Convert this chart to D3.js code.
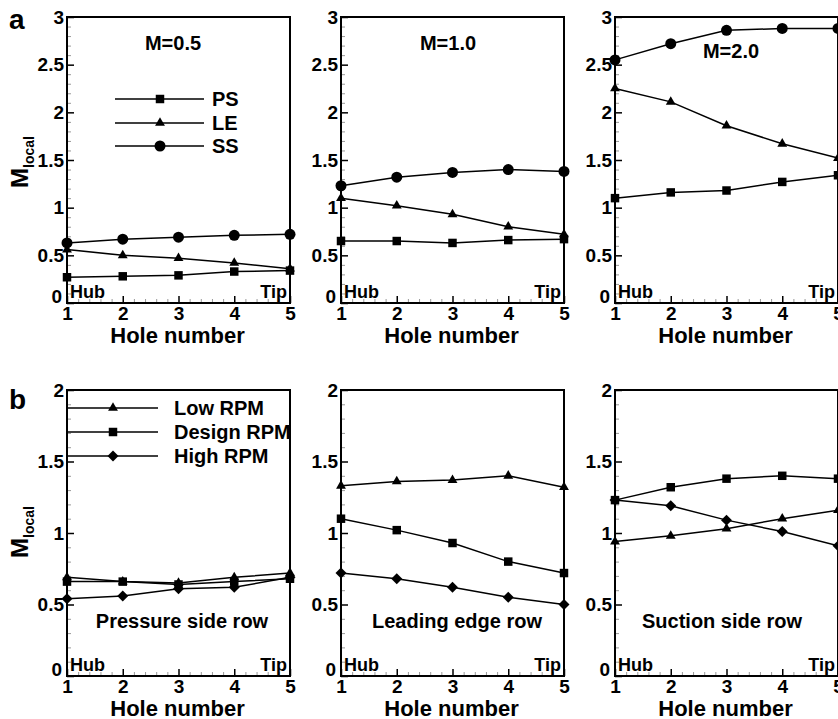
<!DOCTYPE html>
<html>
<head>
<meta charset="utf-8">
<script src="https://d3js.org/d3.v7.min.js"></script>
<style>
  body { margin: 0; background: #fff; }
  svg text { font-family: "Liberation Sans", Arial, sans-serif; font-weight: bold; fill: #000; }
</style>
</head>
<body>
<div id="chart"></div>
<script>

// hole positions along the blade span
var holes = [1, 2, 3, 4, 5];

// row a: blowing ratio cases
var titlesA = ["M=0.5", "M=1.0", "M=2.0"];
var m05PS = [0.27, 0.28, 0.29, 0.33, 0.34];
var m05LE = [0.56, 0.50, 0.47, 0.42, 0.36];
var m05SS = [0.63, 0.67, 0.69, 0.71, 0.72];
var m10PS = [0.65, 0.65, 0.63, 0.66, 0.67];
var m10LE = [1.10, 1.02, 0.93, 0.80, 0.72];
var m10SS = [1.23, 1.32, 1.37, 1.40, 1.38];
var m20PS = [1.10, 1.16, 1.18, 1.27, 1.34];
var m20LE = [2.25, 2.11, 1.86, 1.67, 1.52];
var m20SS = [2.55, 2.72, 2.86, 2.88, 2.88];
var seriesA = ["PS", "LE", "SS"];

// row b: rotational speed cases
var titlesB = ["Pressure side row", "Leading edge row", "Suction side row"];
var psLow    = [0.69, 0.66, 0.65, 0.69, 0.72];
var psDesign = [0.66, 0.66, 0.64, 0.66, 0.68];
var psHigh   = [0.54, 0.56, 0.61, 0.62, 0.69];
var leLow    = [1.33, 1.36, 1.37, 1.40, 1.32];
var leDesign = [1.10, 1.02, 0.93, 0.80, 0.72];
var leHigh   = [0.72, 0.68, 0.62, 0.55, 0.50];
var ssLow    = [0.94, 0.98, 1.03, 1.10, 1.16];
var ssDesign = [1.23, 1.32, 1.38, 1.40, 1.38];
var ssHigh   = [1.23, 1.19, 1.09, 1.01, 0.91];
var seriesB = ["Low RPM", "Design RPM", "High RPM"];

var yTicksA = [0, 0.5, 1, 1.5, 2, 2.5, 3];
var yTicksB = [0, 0.5, 1, 1.5, 2];

var width = 838, height = 719;
var svg = d3.select("#chart").append("svg")
  .attr("width", width)
  .attr("height", height);

var lefts = [67, 341, 615];
var pw = 223, ph = 286;

var shapes = {
  "PS": {type: d3.symbolSquare, size: 72, rot: 0},
  "LE": {type: d3.symbolTriangle, size: 42, rot: 0},
  "SS": {type: d3.symbolCircle, size: 95, rot: 0},
  "Low RPM": {type: d3.symbolTriangle, size: 42, rot: 0},
  "Design RPM": {type: d3.symbolSquare, size: 72, rot: 0},
  "High RPM": {type: d3.symbolSquare, size: 60, rot: 45}
};

function drawPanel(left, top, ymax, yTicks, series, names) {
  var g = svg.append("g").attr("transform", "translate(" + left + "," + top + ")");
  var x = d3.scaleLinear().domain([1, 5]).range([0, pw]);
  var y = d3.scaleLinear().domain([0, ymax]).range([ph, 0]);

  // minor ticks
  var yMinor = d3.range(0, ymax + 0.001, 0.1).filter(function(v) { return Math.abs(v * 2 - Math.round(v * 2)) > 0.01; });
  var xMinor = d3.range(1, 5.001, 0.2).filter(function(v) { return Math.abs(v - Math.round(v)) > 0.01; });
  g.append("g")
    .call(d3.axisLeft(y).tickValues(yMinor).tickSize(-4).tickFormat(""))
    .call(function(a) { a.select(".domain").remove(); a.selectAll("line").attr("stroke", "#999"); });
  g.append("g")
    .attr("transform", "translate(0," + ph + ")")
    .call(d3.axisBottom(x).tickValues(xMinor).tickSize(-4).tickFormat(""))
    .call(function(a) { a.select(".domain").remove(); a.selectAll("line").attr("stroke", "#999"); });

  // major ticks
  g.append("g")
    .call(d3.axisLeft(y).tickValues(yTicks).tickSize(-7).tickPadding(3).tickFormat(function(d) { return String(d); }))
    .call(function(a) {
      a.select(".domain").remove();
      a.selectAll("line").attr("stroke", "#000").attr("stroke-width", 1.5);
      a.selectAll("text").attr("font-size", 19).attr("font-family", null);
      a.selectAll(".tick").filter(function(d) { return d === 0; }).select("text").attr("dy", "-0.05em").attr("x", -5);
    });
  g.append("g")
    .attr("transform", "translate(0," + ph + ")")
    .call(d3.axisBottom(x).tickValues(holes).tickSize(-7).tickPadding(2).tickFormat(d3.format("d")))
    .call(function(a) {
      a.select(".domain").remove();
      a.selectAll("line").attr("stroke", "#000").attr("stroke-width", 1.5);
      a.selectAll("text").attr("font-size", 19).attr("font-family", null).attr("y", 3);
    });

  // frame
  g.append("rect")
    .attr("width", pw).attr("height", ph)
    .attr("fill", "none").attr("stroke", "#000").attr("stroke-width", 2);

  var line = d3.line()
    .x(function(d, i) { return x(holes[i]); })
    .y(function(d) { return y(d); });

  series.forEach(function(vals, k) {
    g.append("path")
      .attr("d", line(vals))
      .attr("fill", "none")
      .attr("stroke", "#000")
      .attr("stroke-width", 1.5);
    var s = shapes[names[k]];
    g.selectAll(null)
      .data(vals)
      .enter()
      .append("path")
      .attr("d", d3.symbol().type(s.type).size(s.size))
      .attr("transform", function(d, i) { return "translate(" + x(holes[i]) + "," + y(d) + ") rotate(" + s.rot + ")"; })
      .attr("fill", "#000");
  });

  g.append("text").attr("x", 3).attr("y", ph - 5).attr("font-size", 18).text("Hub");
  g.append("text").attr("x", pw - 3).attr("y", ph - 5).attr("font-size", 18).attr("text-anchor", "end").text("Tip");

  g.append("text")
    .attr("x", pw / 2 - 1).attr("y", ph + 40)
    .attr("font-size", 22).attr("text-anchor", "middle")
    .text("Hole number");

  return g;
}

function legend(g, names, x1, x2, xm, ys, xt) {
  names.forEach(function(n, k) {
    var s = shapes[n];
    g.append("line").attr("x1", x1).attr("x2", x2).attr("y1", ys[k]).attr("y2", ys[k])
      .attr("stroke", "#000").attr("stroke-width", 1.5);
    g.append("path")
      .attr("d", d3.symbol().type(s.type).size(s.size))
      .attr("transform", "translate(" + xm + "," + ys[k] + ") rotate(" + s.rot + ")")
      .attr("fill", "#000");
    g.append("text").attr("x", xt).attr("y", ys[k] + 7).attr("font-size", 20).text(n);
  });
}

// row a
var topA = 17;
var dataA = [[m05PS, m05LE, m05SS], [m10PS, m10LE, m10SS], [m20PS, m20LE, m20SS]];
var titlePosA = [[106, 33], [107, 33], [116, 41]];
dataA.forEach(function(ser, p) {
  var g = drawPanel(lefts[p], topA, 3, yTicksA, ser, seriesA);
  g.append("text").attr("x", titlePosA[p][0]).attr("y", titlePosA[p][1])
    .attr("font-size", 20).attr("text-anchor", "middle").text(titlesA[p]);
  if (p === 0) legend(g, seriesA, 48, 137, 93, [82, 106, 129], 145);
});

// row b
var topB = 390;
var dataB = [[psLow, psDesign, psHigh], [leLow, leDesign, leHigh], [ssLow, ssDesign, ssHigh]];
var rowLabelX = [115, 116, 107];
dataB.forEach(function(ser, p) {
  var g = drawPanel(lefts[p], topB, 2, yTicksB, ser, seriesB);
  g.append("text").attr("x", rowLabelX[p]).attr("y", 238)
    .attr("font-size", 20).attr("text-anchor", "middle").text(titlesB[p]);
  if (p === 0) legend(g, seriesB, 0, 91, 46, [18, 42, 66], 107);
});

// panel letters
svg.append("text").attr("x", 9).attr("y", 29).attr("font-size", 28).text("a");
svg.append("text").attr("x", 9).attr("y", 409).attr("font-size", 28).text("b");

// y axis titles
[162, 532].forEach(function(cy) {
  var t = svg.append("text")
    .attr("transform", "translate(28," + cy + ") rotate(-90)")
    .attr("text-anchor", "middle")
    .attr("font-size", 24);
  t.append("tspan").text("M");
  t.append("tspan").attr("font-size", 14).attr("dy", 6).text("local");
});

</script>
</body>
</html>
